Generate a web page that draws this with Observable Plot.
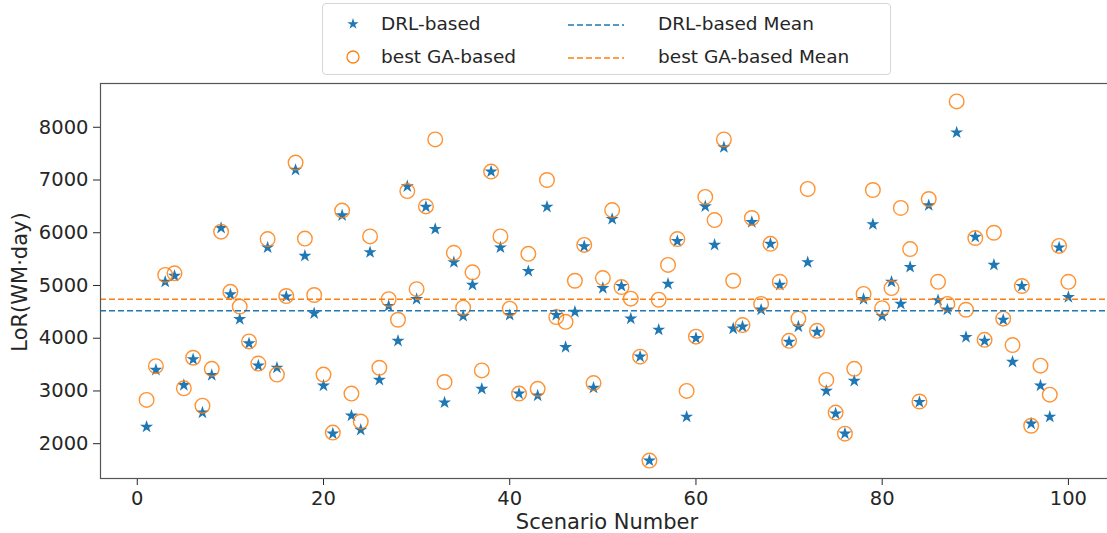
<!DOCTYPE html>
<html>
<head>
<meta charset="utf-8">
<script src="https://cdn.jsdelivr.net/npm/d3@7"></script>
<script src="https://cdn.jsdelivr.net/npm/@observablehq/plot@0.6"></script>
<style>
  html, body { margin: 0; padding: 0; background: #fff; overflow: hidden; }
  #wrap { position: relative; width: 1107px; height: 533px; overflow: hidden; font-family: "DejaVu Sans", sans-serif; color: #262626; }
  #chart { position: absolute; left: 0; top: 0; width: 1120px; }
  .legend { position: absolute; left: 322px; top: 3px; width: 569px; height: 72px; border: 1px solid #d6d6d6; border-radius: 4px; background: #fff; box-sizing: border-box; }
  .item { position: absolute; font-size: 18.5px; line-height: 20px; white-space: nowrap; }
  .sym { position: absolute; }
  .ytitle { position: absolute; left: 20px; top: 282px; transform: translate(-50%, -50%) rotate(-90deg); font-size: 21px; white-space: nowrap; }
  .xtitle { position: absolute; left: 607px; top: 522px; transform: translate(-50%, -50%); font-size: 21px; white-space: nowrap; }
</style>
</head>
<body>
<div id="wrap">
  <div id="chart"></div>
  <div class="ytitle">LoR(WM·day)</div>
  <div class="xtitle">Scenario Number</div>
  <div class="legend">
    <svg class="sym" style="left:22px;top:12px" width="16" height="16" viewBox="-8 -8 16 16"><path id="lgstar" fill="#1f77b4"></path></svg>
    <div class="item" style="left:58px;top:10px">DRL-based</div>
    <svg class="sym" style="left:22px;top:45px" width="16" height="16" viewBox="-8 -8 16 16"><circle r="6" fill="none" stroke="#ff7f0e" stroke-width="1.3"></circle></svg>
    <div class="item" style="left:58px;top:43px">best GA-based</div>
    <svg class="sym" style="left:245px;top:19px" width="56" height="4"><line x1="0" x2="56" y1="2" y2="2" stroke="#1f77b4" stroke-width="1.5" stroke-dasharray="6,3"></line></svg>
    <div class="item" style="left:335px;top:10px">DRL-based Mean</div>
    <svg class="sym" style="left:245px;top:52px" width="56" height="4"><line x1="0" x2="56" y1="2" y2="2" stroke="#ff7f0e" stroke-width="1.5" stroke-dasharray="6,3"></line></svg>
    <div class="item" style="left:335px;top:43px">best GA-based Mean</div>
  </div>
</div>
<script>
// Scenario numbers 1..100
const scenarios = d3.range(1, 101);

// DRL-based LoR values
const drlValues = [
  2320, 3400, 5070, 5180, 3110, 3600, 2590, 3300, 6090, 4830,
  4360, 3900, 3480, 5720, 3440, 4790, 7190, 5560, 4470, 3100,
  2190, 6330, 2530, 2260, 5630, 3210, 4610, 3950, 6880, 4740,
  6490, 6070, 2780, 5440, 4420, 5010, 3040, 7160, 5720, 4440,
  2950, 5270, 2910, 6490, 4440, 3830, 4500, 5740, 3060, 4950,
  6260, 4990, 4370, 3650, 1680, 4160, 5030, 5840, 2510, 4000,
  6500, 5770, 7620, 4180, 4220, 6200, 4540, 5790, 5010, 3930,
  4220, 5440, 4120, 3000, 2570, 2190, 3190, 4740, 6160, 4420,
  5070, 4650, 5350, 2790, 6520, 4720, 4540, 7900, 4020, 5920,
  3950, 5390, 4350, 3550, 4990, 2380, 3100, 2510, 5720, 4780
];

// best GA-based LoR values
const gaValues = [
  2830, 3470, 5200, 5230, 3050, 3630, 2720, 3420, 6020, 4880,
  4600, 3940, 3520, 5880, 3310, 4800, 7330, 5890, 4820, 3310,
  2210, 6420, 2950, 2420, 5930, 3440, 4740, 4350, 6790, 4930,
  6500, 7770, 3170, 5620, 4580, 5250, 3390, 7160, 5930, 4560,
  2950, 5600, 3040, 7000, 4400, 4310, 5090, 5770, 3150, 5140,
  6430, 4970, 4750, 3650, 1680, 4730, 5390, 5880, 3000, 4030,
  6680, 6240, 7770, 5090, 4250, 6280, 4650, 5790, 5070, 3950,
  4370, 6830, 4140, 3210, 2590, 2190, 3420, 4840, 6810, 4570,
  4950, 6470, 5690, 2800, 6640, 5070, 4650, 8490, 4540, 5900,
  3970, 6000, 4370, 3870, 4990, 2340, 3480, 2930, 5750, 5070
];

// Mean lines
const drlMean = 4520;
const gaMean = 4740;

// Tick values
const xTicks = [0, 20, 40, 60, 80, 100];
const yTicks = [2000, 3000, 4000, 5000, 6000, 7000, 8000];

const blue = "#1f77b4";
const orange = "#ff7f0e";

const drl = scenarios.map((s, i) => ({s, v: drlValues[i]}));
const ga = scenarios.map((s, i) => ({s, v: gaValues[i]}));

// legend star path
document.getElementById("lgstar").setAttribute("d", d3.symbol(d3.symbolStar, 40)());

const chart = Plot.plot({
  width: 1120,
  height: 533,
  marginLeft: 100,
  marginRight: 6,
  marginTop: 83,
  marginBottom: 55,
  style: {fontFamily: "DejaVu Sans, sans-serif", fontSize: "19.5px", color: "#262626", background: "transparent", overflow: "visible", maxWidth: "none"},
  x: {domain: [-3.95, 104.95], ticks: xTicks, tickSize: 7, tickPadding: 6, tickFormat: d => String(d), label: null},
  y: {domain: [1340, 8830], ticks: yTicks, tickSize: 7, tickPadding: 5, tickFormat: d => String(d), label: null},
  marks: [
    Plot.dot(drl, {x: "s", y: "v", symbol: "star", fill: blue, stroke: "none", r: 4.1}),
    Plot.dot(ga, {x: "s", y: "v", symbol: "circle", fill: "none", stroke: orange, strokeWidth: 1.4, r: 7.3, strokeOpacity: 0.85}),
    Plot.ruleY([drlMean], {stroke: blue, strokeWidth: 1.5, strokeDasharray: "6,3"}),
    Plot.ruleY([gaMean], {stroke: orange, strokeWidth: 1.5, strokeDasharray: "6,3"}),
    Plot.frame({stroke: "#555", strokeWidth: 1.2})
  ]
});
chart.style.maxWidth = "none";
document.getElementById("chart").appendChild(chart);
</script>
</body>
</html>
